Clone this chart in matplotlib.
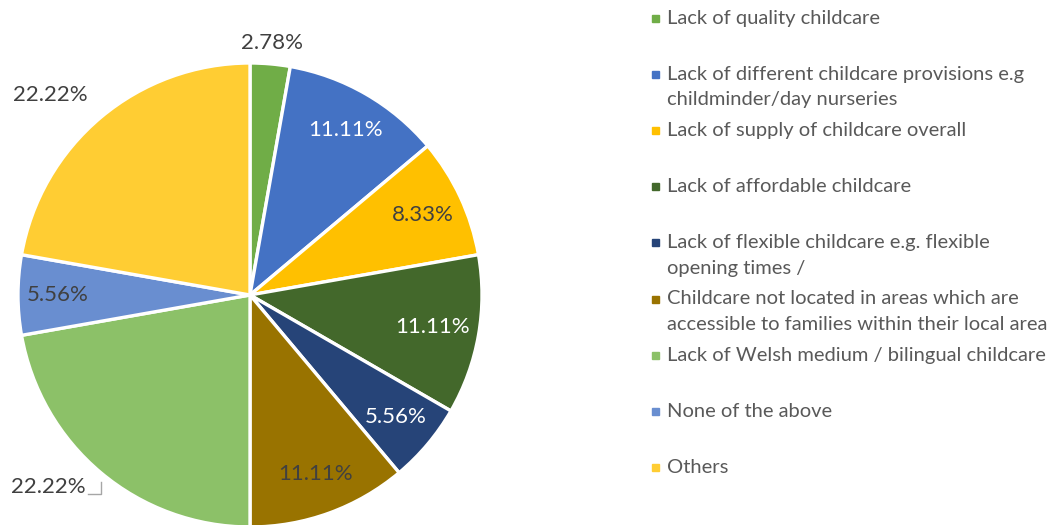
import numpy as np
import matplotlib.pyplot as plt
from matplotlib.patches import Rectangle

plt.rcParams['font.family'] = ['Lato', 'DejaVu Sans']

# data
labels = ['Lack of quality childcare',
          'Lack of different childcare provisions e.g\nchildminder/day nurseries',
          'Lack of supply of childcare overall',
          'Lack of affordable childcare',
          'Lack of flexible childcare e.g. flexible\nopening times /',
          'Childcare not located in areas which are\naccessible to families within their local area',
          'Lack of Welsh medium / bilingual childcare',
          'None of the above',
          'Others']
values = [2.78, 11.11, 8.33, 11.11, 5.56, 11.11, 22.22, 5.56, 22.22]
colors = ['#70AD47', '#4472C4', '#FFC000', '#43682B', '#264478',
          '#997300', '#8CC168', '#698ED0', '#FFCD33']
txt_colors = ['#404040', 'white', '#404040', 'white', 'white',
              '#404040', '#404040', '#404040', '#404040']
# label placement: fraction of radius, and angular nudge (deg, clockwise)
lab_dist = [1.09, 0.82, 0.82, 0.80, 0.82, 0.82, 1.20, 0.83, 1.22]
lab_shift = [0, 0, 0, 0, 0, 0, 6.5, 0, -5]

W, H = 1051, 525
fig = plt.figure(figsize=(W/100, H/100), dpi=100)
ax = fig.add_axes([0, 0, 1, 1])

cx, cy, R = 250, H - 295, 232
wedges, _ = ax.pie(values, colors=colors, startangle=90, counterclock=False,
                   center=(cx, cy), radius=R,
                   wedgeprops=dict(edgecolor='white', linewidth=2.4))

pos = []
for w, v, c, d, s in zip(wedges, values, txt_colors, lab_dist, lab_shift):
    ang = np.deg2rad((w.theta1 + w.theta2) / 2 - s)
    x = cx + d * R * np.cos(ang)
    y = cy + d * R * np.sin(ang)
    pos.append((x, y))
    ax.text(x, y, '{:.2f}%'.format(v), color=c, fontsize=16,
            ha='center', va='center')

# leader line for the lower 22.22% label
lx, ly = pos[6]
ax.plot([lx + 40, lx + 53, lx + 53], [ly - 7, ly - 7, ly + 5],
        color='#A6A6A6', lw=1)

ax.set_xlim(0, W)
ax.set_ylim(0, H)
ax.axis('off')

# legend
for i, (lab, col) in enumerate(zip(labels, colors)):
    y = H - 18 - 56.1 * i
    ax.add_patch(Rectangle((652, y - 4), 7, 7, color=col))
    ax.text(667, y + 8, lab, color='#595959', fontsize=14.5,
            ha='left', va='top', linespacing=1.6)

fig.savefig('out.png', dpi=100)
